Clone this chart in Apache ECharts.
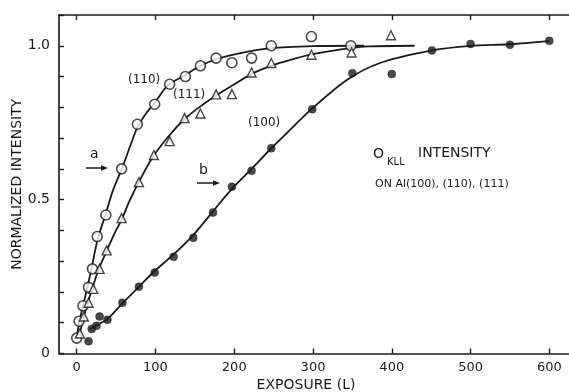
<!DOCTYPE html>
<html>
<head>
<meta charset="utf-8">
<script src="https://cdn.jsdelivr.net/npm/echarts@6/dist/echarts.min.js"></script>
<style>
  html, body { margin: 0; padding: 0; background: #fff; }
  #chart { width: 569px; height: 392px; }
</style>
</head>
<body>
<div id="chart"></div>
<script>
// measured points, [exposure (L), normalized intensity]
const pts110 = [[0,0.05],[3,0.105],[8,0.155],[15,0.215],[20,0.275],[26,0.38],[37,0.45],[57,0.6],[77,0.745],[99,0.81],[118,0.875],[138,0.9],[157,0.935],[177,0.96],[197,0.945],[222,0.96],[247,1.0],[298,1.03],[348,1.0]];
const pts111 = [[4,0.065],[9,0.12],[15,0.165],[21,0.21],[29,0.275],[38,0.335],[57,0.44],[79,0.557],[98,0.645],[118,0.69],[137,0.765],[157,0.78],[177,0.842],[197,0.843],[222,0.913],[247,0.944],[298,0.971],[349,0.978],[399,1.034]];
const pts100 = [[15,0.04],[19,0.08],[25,0.09],[29,0.12],[39,0.11],[58,0.165],[79,0.217],[99,0.263],[123,0.314],[148,0.376],[173,0.458],[197,0.542],[222,0.594],[247,0.667],[299,0.794],[350,0.911],[400,0.908],[451,0.985],[500,1.006],[550,1.003],[600,1.016]];

// hand-drawn fit curves
const curve110 = [[0,0.05],[3,0.1],[8,0.155],[14,0.22],[19,0.28],[27,0.375],[37,0.455],[46,0.53],[58,0.605],[68,0.675],[77,0.735],[88,0.78],[99,0.815],[116,0.872],[138,0.905],[157,0.935],[178,0.957],[199,0.971],[224,0.984],[250,0.993],[300,0.999],[365,1.0]];
const curve111 = [[4,0.065],[10,0.13],[19,0.205],[28,0.275],[38,0.333],[47,0.385],[58,0.44],[66,0.49],[79,0.558],[97,0.64],[118,0.71],[137,0.762],[157,0.803],[178,0.84],[199,0.873],[224,0.911],[250,0.938],[271,0.954],[298,0.972],[349,0.993],[370,0.998],[429,1.0]];
const curve100 = [[17,0.08],[28,0.095],[39,0.112],[58,0.163],[79,0.217],[99,0.268],[123,0.322],[148,0.385],[173,0.462],[197,0.535],[222,0.6],[247,0.667],[258,0.694],[298,0.794],[343,0.889],[385,0.944],[451,0.985],[500,1.0],[550,1.005],[600,1.015]];

const xTicks = [0, 100, 200, 300, 400, 500, 600];
const yTicks = [0, 0.1, 0.2, 0.3, 0.4, 0.5, 0.6, 0.7, 0.8, 0.9, 1.0, 1.1];
const yLabels = [0, 0.5, 1.0];

const ink = '#1a1a1a';
const font = 'DejaVu Sans';

const chart = echarts.init(document.getElementById('chart'));

function arrow(x1, x2, y) {
  return [
    { type: 'line', shape: { x1: x1, y1: y, x2: x2 - 5, y2: y }, style: { stroke: ink, lineWidth: 1.5 } },
    { type: 'polygon', shape: { points: [[x2 - 7, y - 2.8], [x2, y], [x2 - 7, y + 2.8]] }, style: { fill: ink } }
  ];
}

function label(text, x, y, size) {
  return {
    type: 'text',
    style: { text: text, x: x, y: y, fill: ink, font: size + 'px "' + font + '"', verticalAlign: 'middle' }
  };
}

chart.setOption({
  animation: false,
  backgroundColor: '#fff',
  grid: { left: 59, right: 0, top: 15, bottom: 38.5, containLabel: false, outerBoundsMode: 'none' },
  xAxis: [
    {
      type: 'value', min: -22.5, max: 625, position: 'bottom',
      axisLine: { onZero: false, lineStyle: { color: ink, width: 1.6 } },
      axisTick: { inside: true, length: 5, customValues: xTicks, lineStyle: { color: ink, width: 1.4 } },
      axisLabel: { customValues: xTicks, color: ink, fontSize: 13, fontFamily: font, margin: 8 },
      splitLine: { show: false },
      name: 'EXPOSURE (L)', nameLocation: 'middle', nameGap: 25, nameMoveOverlap: false,
      nameTextStyle: { color: ink, fontSize: 14, fontFamily: font, padding: [0, 16, 0, 0] }
    },
    {
      type: 'value', min: -22.5, max: 625, position: 'top',
      axisLine: { show: true, onZero: false, lineStyle: { color: ink, width: 1.6 } },
      axisTick: { inside: true, length: 5, customValues: xTicks, lineStyle: { color: ink, width: 1.4 } },
      axisLabel: { show: false },
      splitLine: { show: false }
    }
  ],
  yAxis: {
    type: 'value', min: 0, max: 1.1,
    axisLine: { show: true, onZero: false, lineStyle: { color: ink, width: 1.6 } },
    axisTick: { inside: true, length: 5, customValues: yTicks, lineStyle: { color: ink, width: 1.4 } },
    axisLabel: {
      customValues: yLabels, color: ink, fontSize: 14, fontFamily: font, margin: 9,
      formatter: v => (v === 0 ? '0' : v.toFixed(1))
    },
    splitLine: { show: false },
    name: 'NORMALIZED INTENSITY', nameLocation: 'middle', nameGap: 35, nameMoveOverlap: false,
    nameTextStyle: { color: ink, fontSize: 14, fontFamily: font }
  },
  series: [
    { type: 'line', data: curve110, smooth: 0.3, showSymbol: false, lineStyle: { color: ink, width: 1.8 }, z: 2 },
    { type: 'line', data: curve111, smooth: 0.3, showSymbol: false, lineStyle: { color: ink, width: 1.8 }, z: 2 },
    { type: 'line', data: curve100, smooth: 0.3, showSymbol: false, lineStyle: { color: ink, width: 1.8 }, z: 2 },
    {
      type: 'scatter', data: pts110, symbol: 'circle', symbolSize: 10, z: 3,
      itemStyle: { color: '#fff', borderColor: ink, borderWidth: 1.6 }
    },
    {
      type: 'scatter', data: pts111, symbol: 'triangle', symbolSize: 9, z: 3,
      itemStyle: { color: '#fff', borderColor: ink, borderWidth: 1.4 }
    },
    {
      type: 'scatter', data: pts100, symbol: 'circle', symbolSize: 8, z: 3,
      itemStyle: { color: ink, borderColor: ink, borderWidth: 0.5 }
    }
  ],
  graphic: [
    label('(110)', 128, 80, 12),
    label('(111)', 173, 95, 12),
    label('(100)', 248, 123, 12),
    label('a', 90, 154, 14),
    label('b', 199, 170, 14),
    ...arrow(86, 108, 168),
    ...arrow(197, 220, 183),
    label('O', 373, 154, 14),
    label('KLL', 387, 162, 10),
    label('INTENSITY', 418, 153, 14),
    label('ON Al(100), (110), (111)', 375, 184, 11)
  ]
});
</script>
</body>
</html>
